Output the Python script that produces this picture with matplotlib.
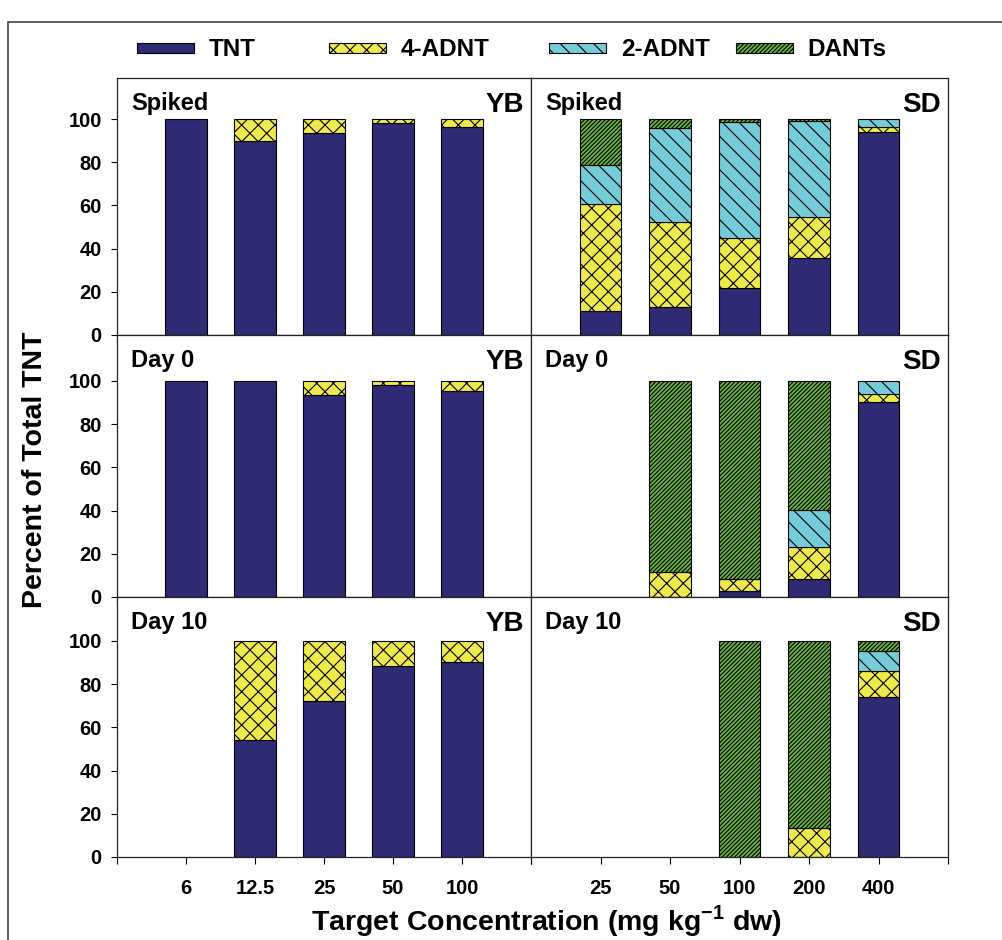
import matplotlib

matplotlib.use("Agg")
import matplotlib.pyplot as plt
from matplotlib.patches import Patch, Rectangle

import numpy as np

plt.rcParams["font.family"] = ["Liberation Sans", "DejaVu Sans"]
plt.rcParams["font.weight"] = "bold"
plt.rcParams["hatch.linewidth"] = 0.8
plt.rcParams["mathtext.fontset"] = "custom"
plt.rcParams["mathtext.rm"] = "Liberation Sans:bold"
plt.rcParams["mathtext.bf"] = "Liberation Sans:bold"

# * данные (процент от общего TNT)
components = ["TNT", "4-ADNT", "2-ADNT", "DANTs"]
yb_conc = ["6", "12.5", "25", "50", "100"]
sd_conc = ["25", "50", "100", "200", "400"]

# * YB
yb_spiked_tnt = [100, 90, 93.5, 98, 96.5]
yb_spiked_4adnt = [0, 10, 6.5, 2, 3.5]
yb_day0_tnt = [100, 100, 93.7, 98, 95.5]
yb_day0_4adnt = [0, 0, 6.3, 2, 4.5]
yb_day10_tnt = [0, 54.2, 72.1, 88.3, 90.3]
yb_day10_4adnt = [0, 45.8, 27.9, 11.7, 9.7]
yb_none = [0, 0, 0, 0, 0]

# * SD
sd_spiked_tnt = [11.2, 13, 21.7, 35.8, 94]
sd_spiked_4adnt = [49.4, 39.4, 23.3, 18.9, 2.5]
sd_spiked_2adnt = [17.9, 43.4, 53.5, 44.3, 3.5]
sd_spiked_dants = [21.5, 4.2, 1.5, 1, 0]
sd_day0_tnt = [0, 0, 2.8, 8.2, 90.1]
sd_day0_4adnt = [0, 11.7, 5.4, 14.9, 3.7]
sd_day0_2adnt = [0, 0, 0, 17.3, 6.2]
sd_day0_dants = [0, 88.3, 91.8, 59.6, 0]
sd_day10_tnt = [0, 0, 0, 0, 74.1]
sd_day10_4adnt = [0, 0, 0, 13.5, 12]
sd_day10_2adnt = [0, 0, 0, 0, 9.4]
sd_day10_dants = [0, 0, 100, 86.5, 4.5]

colors = ["#2E2A73", "#EEEA4C", "#74CCD8", "#6AB43F"]
hatches = [None, "xx", "\\\\", "////////"]

panels = [
    (0, 0, "Spiked", "YB", yb_conc, [yb_spiked_tnt, yb_spiked_4adnt, yb_none, yb_none]),
    (0, 1, "Spiked", "SD", sd_conc, [sd_spiked_tnt, sd_spiked_4adnt, sd_spiked_2adnt, sd_spiked_dants]),
    (1, 0, "Day 0", "YB", yb_conc, [yb_day0_tnt, yb_day0_4adnt, yb_none, yb_none]),
    (1, 1, "Day 0", "SD", sd_conc, [sd_day0_tnt, sd_day0_4adnt, sd_day0_2adnt, sd_day0_dants]),
    (2, 0, "Day 10", "YB", yb_conc, [yb_day10_tnt, yb_day10_4adnt, yb_none, yb_none]),
    (2, 1, "Day 10", "SD", sd_conc, [sd_day10_tnt, sd_day10_4adnt, sd_day10_2adnt, sd_day10_dants]),
]

W, H = 1002, 940
fig = plt.figure(figsize=(W / 100, H / 100), dpi=100)

# * рамка вокруг рисунка
fig.add_artist(
    Rectangle((8 / W, -0.1), 1.2, (H - 22) / H + 0.1, transform=fig.transFigure,
              fill=False, edgecolor="#444444", linewidth=1.2)
)

col_x = [(117, 531), (531, 948)]
row_y = [(78, 335), (335, 597), (597, 857)]

x = np.arange(1, 6)
for row, col, label, site, ticklabels, series in panels:
    x0, x1 = col_x[col]
    y0, y1 = row_y[row]
    ax = fig.add_axes([x0 / W, (H - y1) / H, (x1 - x0) / W, (y1 - y0) / H])

    bottom = np.zeros(5)
    for vals, c, h in zip(series, colors, hatches):
        vals = np.array(vals, dtype=float)
        m = vals > 0
        if m.any():
            ax.bar(x[m], vals[m], 0.6, bottom=bottom[m], color=c,
                   edgecolor="black", linewidth=0.8, hatch=h, zorder=2)
        bottom += vals

    ax.set_xlim(0, 6)
    ax.set_ylim(0, (y1 - y0) / 2.16)
    ax.set_xticks(np.arange(0, 7))
    ax.set_xticklabels([""] + ticklabels + [""])
    ax.tick_params(axis="x", direction="out", length=5, width=0.8, pad=11,
                   labelsize=14.5, labelbottom=(row == 2))
    if col == 0:
        ax.set_yticks(np.arange(0, 101, 20))
        ax.tick_params(axis="y", direction="out", length=4, width=0.8, pad=7,
                       labelsize=14.5)
    else:
        ax.tick_params(axis="y", left=False, labelleft=False)
    for s in ax.spines.values():
        s.set_linewidth(0.9)
        s.set_color("#222222")

    ax.annotate(label, xy=(0, 1), xycoords="axes fraction", xytext=(10, -23),
                textcoords="offset points", ha="left", va="baseline",
                fontsize=17, fontweight="bold")
    ax.annotate(site, xy=(1, 1), xycoords="axes fraction", xytext=(-5, -24.5),
                textcoords="offset points", ha="right", va="baseline",
                fontsize=20, fontweight="bold")

# * легенда: четыре отдельных элемента, как в оригинале
legend_x = [137, 329, 549, 736]
for name, c, h, lx in zip(components, colors, hatches, legend_x):
    fig.legend(
        handles=[Patch(facecolor=c, edgecolor="black", linewidth=0.8, hatch=h, label=name)],
        loc="center left",
        bbox_to_anchor=(lx / W, 1 - 50 / H),
        frameon=False,
        prop={"weight": "bold", "size": 17.5},
        handlelength=2.35,
        handleheight=0.28,
        handletextpad=0.6,
        borderpad=0,
        borderaxespad=0,
    )

fig.text(35 / W, 1 - 470 / H, "Percent of Total TNT", rotation=90,
         ha="center", va="center", fontsize=20.5, fontweight="bold")
fig.text(546 / W, 1 - 921 / H, r"Target Concentration (mg kg$^{\mathbf{-1}}$ dw)",
         ha="center", va="center", fontsize=20.5, fontweight="bold")

plt.savefig("out.png", dpi=100)
plt.close()
